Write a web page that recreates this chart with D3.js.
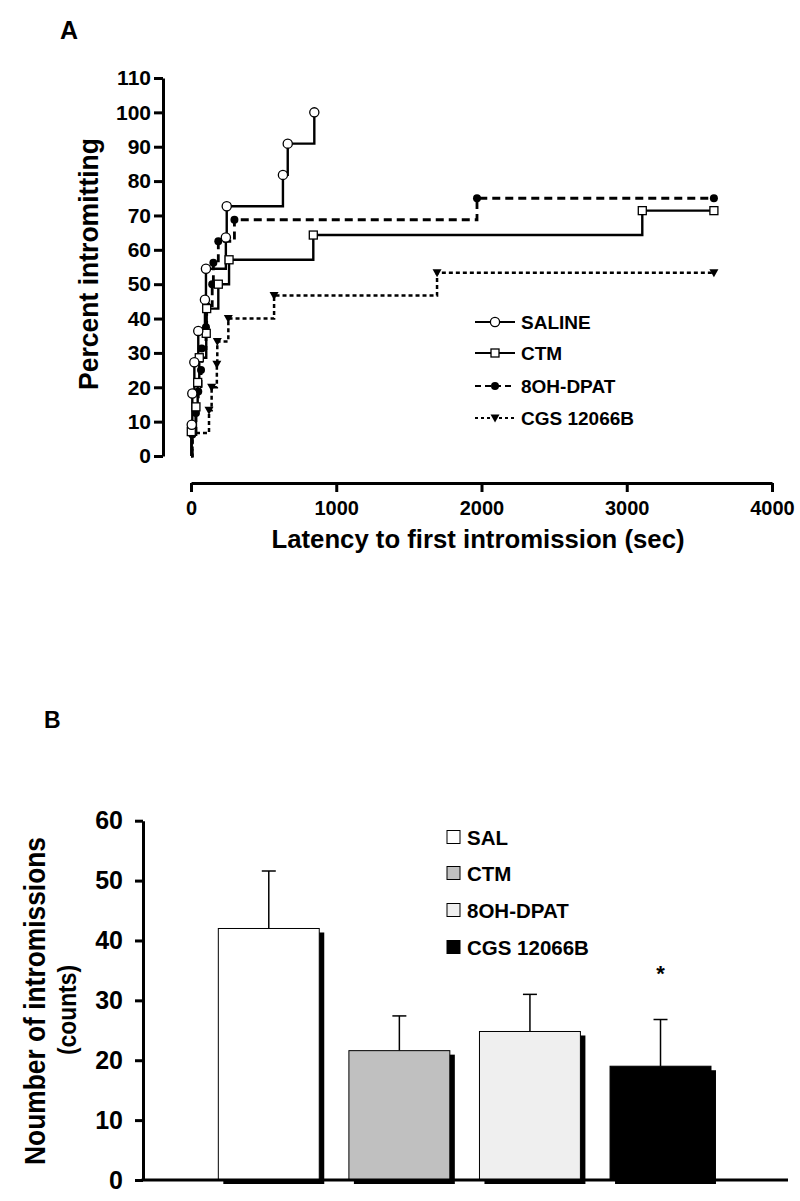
<!DOCTYPE html>
<html>
<head>
<meta charset="utf-8">
<script src="https://cdn.jsdelivr.net/npm/d3@7"></script>
<style>
  html, body { margin: 0; padding: 0; background: #fff; }
  svg { display: block; }
  text { font-family: "Liberation Sans", Arial, sans-serif; font-weight: bold; fill: #000; }
</style>
</head>
<body>
<svg id="chart" width="800" height="1201"></svg>
<script>
// ---------- Panel A data (latency in sec, cumulative percent intromitting) ----------
const salineTimes   = [5, 9, 23, 50, 96, 103, 240, 246, 633, 666, 849];
const salinePct     = [9.1, 18.2, 27.3, 36.4, 45.5, 54.5, 63.6, 72.7, 81.8, 90.9, 100];
const salineEnd     = null;

const ctmTimes      = [2, 34, 46, 57, 105, 108, 188, 262, 842, 3107];
const ctmPct        = [7.1, 14.3, 21.4, 28.6, 35.7, 42.9, 50.0, 57.1, 64.3, 71.4];
const ctmEnd        = 3600;

const dpatTimes     = [9, 34, 50, 69, 74, 103, 108, 146, 154, 188, 299, 1969];
const dpatPct       = [6.25, 12.5, 18.75, 25, 31.25, 37.5, 43.75, 50, 56.25, 62.5, 68.75, 75];
const dpatEnd       = 3600;

const cgsTimes      = [10, 124, 142, 178, 181, 257, 572, 1694];
const cgsPct        = [6.7, 13.3, 20.0, 26.7, 33.3, 40.0, 46.7, 53.3];
const cgsEnd        = 3600;

const seriesNamesA  = ["SALINE", "CTM", "8OH-DPAT", "CGS 12066B"];
const xTicksA       = [0, 1000, 2000, 3000, 4000];
const yTicksA       = [0, 10, 20, 30, 40, 50, 60, 70, 80, 90, 100, 110];

// ---------- Panel B data ----------
const groupsB       = ["SAL", "CTM", "8OH-DPAT", "CGS 12066B"];
const meansB        = [42.0, 21.6, 24.8, 19.0];
const errB          = [9.6, 5.8, 6.2, 7.8];
const sigB          = ["", "", "", "*"];
const yTicksB       = [0, 10, 20, 30, 40, 50, 60];

const svg = d3.select("#chart");

// ================= PANEL A =================
const xA = d3.scaleLinear().domain([0, 4000]).range([191, 772]);
const yA = d3.scaleLinear().domain([0, 110]).range([456, 78]);

svg.append("text").attr("x", 60).attr("y", 39).attr("font-size", 25).text("A");

// y axis
const gyA = svg.append("g").attr("transform", "translate(163,0)")
  .call(d3.axisLeft(yA).tickValues(yTicksA).tickSize(9).tickSizeOuter(0).tickPadding(3));
gyA.select(".domain").attr("stroke", "#000").attr("stroke-width", 3);
gyA.selectAll(".tick line").attr("stroke", "#000").attr("stroke-width", 3);
gyA.selectAll(".tick text").attr("font-size", 21).attr("font-family", "Liberation Sans, Arial, sans-serif").attr("font-weight", "bold").attr("fill", "#000");

// x axis (offset)
const gxA = svg.append("g").attr("transform", "translate(0,483)")
  .call(d3.axisBottom(xA).tickValues(xTicksA).tickSize(9).tickSizeOuter(0).tickPadding(9).tickFormat(d3.format("d")));
gxA.select(".domain").attr("stroke", "#000").attr("stroke-width", 3);
gxA.selectAll(".tick line").attr("stroke", "#000").attr("stroke-width", 3);
gxA.selectAll(".tick text").attr("font-size", 20).attr("font-family", "Liberation Sans, Arial, sans-serif").attr("font-weight", "bold").attr("fill", "#000");

// axis titles
svg.append("text").attr("x", 478).attr("y", 548).attr("text-anchor", "middle")
  .attr("font-size", 26).attr("textLength", 413).attr("lengthAdjust", "spacingAndGlyphs")
  .text("Latency to first intromission (sec)");
svg.append("text").attr("transform", "translate(98,264) rotate(-90)").attr("text-anchor", "middle")
  .attr("font-size", 28).attr("textLength", 252).attr("lengthAdjust", "spacingAndGlyphs")
  .text("Percent intromitting");

// step curves
const stepLine = d3.line().x(d => xA(d[0])).y(d => yA(d[1])).curve(d3.curveStepAfter);

function buildPts(times, pct, end) {
  const pts = [[0, 0]];
  times.forEach((t, i) => pts.push([t, pct[i]]));
  if (end !== null) pts.push([end, pct[pct.length - 1]]);
  return pts;
}

const seriesA = [
  { name: "CGS 12066B", times: cgsTimes, pct: cgsPct, end: cgsEnd, dash: "4,3", sw: 2.5, marker: "tri" },
  { name: "8OH-DPAT", times: dpatTimes, pct: dpatPct, end: dpatEnd, dash: "8,5", sw: 2.8, marker: "dot" },
  { name: "CTM", times: ctmTimes, pct: ctmPct, end: ctmEnd, dash: null, sw: 2.4, marker: "square" },
  { name: "SALINE", times: salineTimes, pct: salinePct, end: salineEnd, dash: null, sw: 2.4, marker: "circle" }
];

function drawMarker(g, type, cx, cy) {
  if (type === "circle") {
    g.append("circle").attr("cx", cx).attr("cy", cy).attr("r", 4.6)
      .attr("fill", "#fff").attr("stroke", "#000").attr("stroke-width", 1.3);
  } else if (type === "square") {
    g.append("rect").attr("x", cx - 4).attr("y", cy - 4).attr("width", 8).attr("height", 8)
      .attr("fill", "#fff").attr("stroke", "#000").attr("stroke-width", 1.3);
  } else if (type === "dot") {
    g.append("circle").attr("cx", cx).attr("cy", cy).attr("r", 4)
      .attr("fill", "#000");
  } else if (type === "tri") {
    g.append("path").attr("d", `M${cx - 4.5},${cy - 3.5}L${cx + 4.5},${cy - 3.5}L${cx},${cy + 4.5}Z`)
      .attr("fill", "#000");
  }
}

const gA = svg.append("g");
seriesA.forEach(s => {
  const pts = buildPts(s.times, s.pct, s.end);
  gA.append("path").attr("d", stepLine(pts)).attr("fill", "none").attr("stroke", "#000")
    .attr("stroke-width", s.sw).attr("stroke-dasharray", s.dash);
});
seriesA.forEach(s => {
  const pts = buildPts(s.times, s.pct, s.end).slice(1);
  const g = gA.append("g");
  pts.forEach(p => drawMarker(g, s.marker, xA(p[0]), yA(p[1])));
});

// legend A
const legA = svg.append("g");
const legRowsA = [
  { name: "SALINE", dash: null, marker: "circle", y: 322 },
  { name: "CTM", dash: null, marker: "square", y: 353 },
  { name: "8OH-DPAT", dash: "6,4", marker: "dot", y: 386 },
  { name: "CGS 12066B", dash: "3,3", marker: "tri", y: 418 }
];
legRowsA.forEach(r => {
  legA.append("line").attr("x1", 475).attr("x2", 515).attr("y1", r.y).attr("y2", r.y)
    .attr("stroke", "#000").attr("stroke-width", 2.2).attr("stroke-dasharray", r.dash);
  drawMarker(legA, r.marker, 495, r.y);
  legA.append("text").attr("x", 521).attr("y", r.y + 7).attr("font-size", 19).text(r.name);
});

// ================= PANEL B =================
const xB = d3.scaleBand().domain(groupsB).range([203.5, 725.8]).paddingInner(0.227).paddingOuter(0.1135);
const yB = d3.scaleLinear().domain([0, 60]).range([1180, 820.7]);
const fillsB = ["#ffffff", "#c0c0c0", "#efefef", "#000000"];

svg.append("text").attr("x", 44).attr("y", 728).attr("font-size", 23).text("B");

const gB = svg.append("g");
// shadows
groupsB.forEach((g, i) => {
  gB.append("rect").attr("x", xB(g) + 5).attr("y", yB(meansB[i]) + 4)
    .attr("width", xB.bandwidth()).attr("height", yB(0) - yB(meansB[i]))
    .attr("fill", "#000");
});
// error bars
groupsB.forEach((g, i) => {
  const cx = xB(g) + xB.bandwidth() / 2;
  gB.append("line").attr("x1", cx).attr("x2", cx).attr("y1", yB(meansB[i])).attr("y2", yB(meansB[i] + errB[i]))
    .attr("stroke", "#000").attr("stroke-width", 1.5);
  gB.append("line").attr("x1", cx - 7).attr("x2", cx + 7).attr("y1", yB(meansB[i] + errB[i])).attr("y2", yB(meansB[i] + errB[i]))
    .attr("stroke", "#000").attr("stroke-width", 1.5);
  if (sigB[i]) {
    gB.append("text").attr("x", cx).attr("y", 981).attr("text-anchor", "middle").attr("font-size", 22).text(sigB[i]);
  }
});
// bars
groupsB.forEach((g, i) => {
  gB.append("rect").attr("x", xB(g)).attr("y", yB(meansB[i]))
    .attr("width", xB.bandwidth()).attr("height", yB(0) - yB(meansB[i]))
    .attr("fill", fillsB[i]).attr("stroke", "#000").attr("stroke-width", 1);
});

// axes B
const gyB = svg.append("g").attr("transform", "translate(143,0)")
  .call(d3.axisLeft(yB).tickValues(yTicksB).tickSize(8).tickSizeOuter(0).tickPadding(12));
gyB.select(".domain").attr("stroke", "#000").attr("stroke-width", 3);
gyB.selectAll(".tick line").attr("stroke", "#000").attr("stroke-width", 3);
gyB.selectAll(".tick text").attr("font-size", 25).attr("font-family", "Liberation Sans, Arial, sans-serif").attr("font-weight", "bold").attr("fill", "#000");

svg.append("line").attr("x1", 141.5).attr("x2", 788).attr("y1", yB(0)).attr("y2", yB(0))
  .attr("stroke", "#000").attr("stroke-width", 3);

svg.append("text").attr("transform", "translate(45,1001) rotate(-90)").attr("text-anchor", "middle")
  .attr("font-size", 30).attr("textLength", 328).attr("lengthAdjust", "spacingAndGlyphs")
  .text("Noumber of intromissions");
svg.append("text").attr("transform", "translate(76,1010) rotate(-90)").attr("text-anchor", "middle")
  .attr("font-size", 26).attr("textLength", 90).attr("lengthAdjust", "spacingAndGlyphs")
  .text("(counts)");

// legend B
const legRowsB = [837, 873, 910, 947];
groupsB.forEach((g, i) => {
  svg.append("rect").attr("x", 447).attr("y", legRowsB[i] - 6.5).attr("width", 13).attr("height", 13)
    .attr("fill", fillsB[i]).attr("stroke", "#000").attr("stroke-width", 1);
  svg.append("text").attr("x", 467).attr("y", legRowsB[i] + 7.5).attr("font-size", 20.5).text(g);
});
</script>
</body>
</html>
